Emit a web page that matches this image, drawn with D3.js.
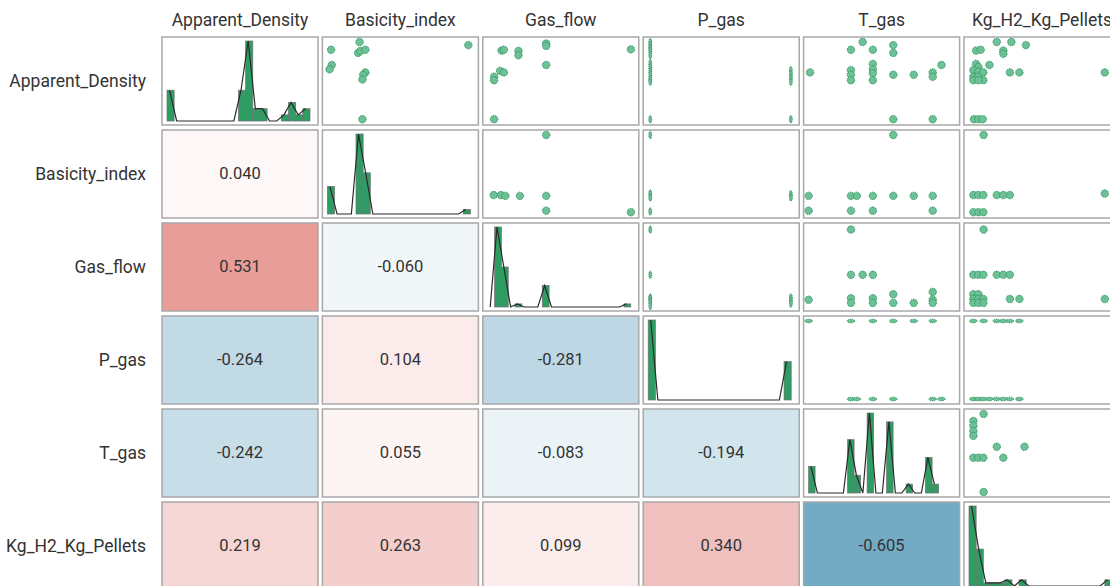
<!DOCTYPE html>
<html>
<head>
<meta charset="utf-8">
<title>Pairs plot</title>
<script src="https://d3js.org/d3.v7.min.js"></script>
<style>
  body { margin: 0; background: #fff; }
  text { font-family: Roboto, "Open Sans", sans-serif; fill: #333; }
</style>
</head>
<body>
<svg id="chart" width="1110" height="586"></svg>
<script>
var vars = ["Apparent_Density", "Basicity_index", "Gas_flow", "P_gas", "T_gas", "Kg_H2_Kg_Pellets"];

// lower triangle: [row, col, r]
var corr = [
  [1, 0, 0.040],
  [2, 0, 0.531], [2, 1, -0.060],
  [3, 0, -0.264], [3, 1, 0.104], [3, 2, -0.281],
  [4, 0, -0.242], [4, 1, 0.055], [4, 2, -0.083], [4, 3, -0.194],
  [5, 0, 0.219], [5, 1, 0.263], [5, 2, 0.099], [5, 3, 0.340], [5, 4, -0.605]
];

// diagonal histograms, counts per bin (null = outside data range)
var histApparent = [10,0,0,0,0,0,0,0,0,0,10,26,4,4,0,0,2,6,2,4];
var histBasicity = [12,0,0,0,35,18,0,0,0,0,0,0,0,0,0,0,0,0,0,2];
var histGas      = [0,26,13,0,1,0,0,0,7,0,0,0,0,0,0,0,0,0,0,0,1];
var histPgas     = [50,0,0,0,0,0,0,0,0,0,0,0,0,0,0,0,0,0,0,24];
var histTgas     = [6,0,0,0,0,0,12,4,0,18,0,0,16,0,0,2,0,0,8,2,null,null];
var histKg       = [26,12,1,1,1,2,0,2,0,0,0,0,0,0,0,0,0,0,0,2];
var hists = [histApparent, histBasicity, histGas, histPgas, histTgas, histKg];

// upper triangle scatter points, min-max normalised [x (column var), y (row var)]
var pts01 = [[0.025,0.90],[0.22,1.0],[0.21,0.86],[0.226,0.885],[0.26,0.90],[0.03,0.705],[0.015,0.65],[0.26,0.61],[0.245,0.58],[0.24,0.52],[0.24,0.01],[0.965,0.96]];
var pts02 = [[0.094,0.89],[0.11,0.90],[0.21,0.885],[0.21,0.83],[0.40,0.98],[0.40,0.95],[0.40,0.705],[0.084,0.63],[0.11,0.61],[0.043,0.555],[0.043,0.51],[0.043,0.01],[0.98,0.906]];
var pts03 = [[0.014,1.0],[0.014,0.96],[0.014,0.92],[0.014,0.885],[0.014,0.83],[0.014,0.73],[0.014,0.68],[0.014,0.63],[0.014,0.58],[0.014,0.525],[0.014,0.49],[0.977,0.64],[0.977,0.59],[0.977,0.54],[0.977,0.49],[0.014,0.01],[0.977,0.01]];
var pts04 = [[0.01,0.61],[0.37,1.0],[0.29,0.90],[0.44,0.90],[0.58,0.96],[0.58,0.86],[0.29,0.64],[0.29,0.58],[0.29,0.51],[0.44,0.72],[0.44,0.65],[0.44,0.60],[0.44,0.51],[0.58,0.58],[0.72,0.58],[0.85,0.61],[0.85,0.555],[0.91,0.705],[0.58,0.01],[0.85,0.01]];
var pts05 = [[0.048,0.89],[0.08,0.90],[0.19,1.0],[0.29,1.0],[0.39,0.96],[0.235,0.89],[0.235,0.85],[0.048,0.72],[0.064,0.68],[0.14,0.705],[0.03,0.64],[0.064,0.62],[0.098,0.61],[0.03,0.555],[0.064,0.555],[0.098,0.51],[0.03,0.51],[0.064,0.51],[0.28,0.61],[0.345,0.61],[0.93,0.61],[0.034,0.01],[0.064,0.01],[0.094,0.01]];
var pts12 = [[0.40,1.0],[0.04,0.23],[0.09,0.23],[0.12,0.22],[0.22,0.22],[0.40,0.22],[0.40,0.03],[0.98,0.01]];
var pts13 = [[0.014,1.0],[0.014,0.25],[0.014,0.2],[0.014,0.02],[0.977,0.24],[0.977,0.2]];
var pts14 = [[0.58,1.0],[0.0,0.22],[0.29,0.22],[0.33,0.22],[0.44,0.22],[0.58,0.22],[0.72,0.22],[0.85,0.22],[0.0,0.03],[0.29,0.03],[0.44,0.03],[0.85,0.03]];
var pts15 = [[0.1,1.0],[0.03,0.23],[0.064,0.23],[0.098,0.23],[0.19,0.23],[0.235,0.23],[0.28,0.23],[0.93,0.25],[0.03,0.01],[0.064,0.01],[0.098,0.01]];
var pts23 = [[0.014,0.98],[0.014,0.40],[0.014,0.11],[0.014,0.09],[0.014,0.05],[0.014,0.0],[0.977,0.11],[0.977,0.07],[0.977,0.03]];
var pts24 = [[0.29,0.98],[0.29,0.40],[0.37,0.40],[0.44,0.40],[0.58,0.15],[0.85,0.18],[0.0,0.08],[0.29,0.1],[0.29,0.04],[0.44,0.1],[0.44,0.04],[0.58,0.04],[0.72,0.04],[0.85,0.08],[0.85,0.04]];
var pts25 = [[0.1,0.98],[0.03,0.40],[0.064,0.40],[0.098,0.40],[0.19,0.40],[0.235,0.40],[0.28,0.40],[0.03,0.15],[0.064,0.15],[0.03,0.09],[0.064,0.09],[0.098,0.09],[0.03,0.04],[0.064,0.04],[0.098,0.04],[0.28,0.09],[0.345,0.09],[0.93,0.09]];
var pts34 = [[0.0,1.0],[0.29,1.0],[0.44,1.0],[0.58,1.0],[0.72,1.0],[0.85,1.0],[0.29,0.0],[0.33,0.0],[0.44,0.0],[0.58,0.0],[0.85,0.0],[0.91,0.0]];
var pts35 = [[0.03,1.0],[0.1,1.0],[0.19,1.0],[0.235,1.0],[0.28,1.0],[0.345,1.0],[0.03,0.0],[0.064,0.0],[0.098,0.0],[0.14,0.0],[0.19,0.0],[0.235,0.0],[0.28,0.0],[0.345,0.0]];
var pts45 = [[0.1,1.0],[0.03,0.91],[0.03,0.85],[0.03,0.78],[0.03,0.72],[0.19,0.58],[0.38,0.58],[0.03,0.44],[0.064,0.44],[0.098,0.44],[0.235,0.44],[0.1,0.0]];
var scatter = {
  "0,1": pts01, "0,2": pts02, "0,3": pts03, "0,4": pts04, "0,5": pts05,
  "1,2": pts12, "1,3": pts13, "1,4": pts14, "1,5": pts15,
  "2,3": pts23, "2,4": pts24, "2,5": pts25,
  "3,4": pts34, "3,5": pts35,
  "4,5": pts45
};

var svg = d3.select("#chart");

var colX = d3.scaleBand().domain(vars).range([162, 1120]).paddingInner(0.0274);
var rowY = d3.scaleBand().domain(vars).range([37, 590]).paddingInner(0.0538);
var bw = colX.bandwidth(), bh = rowY.bandwidth();

var color = d3.scaleLinear().domain([-1, 0, 1]).range(["#17729e", "#ffffff", "#d4463f"]);

// point radius shrinks along the wide-range P_gas axis
function radius(v, isY) {
  if (v === "P_gas") return isY ? 1.8 : 1.4;
  return 3.7;
}

// column headers
svg.selectAll(".colTitle")
  .data(vars)
  .join("text")
  .attr("class", "colTitle")
  .attr("x", function(d){ return colX(d) + bw / 2; })
  .attr("y", 26)
  .attr("text-anchor", "middle")
  .style("font-size", "17.5px")
  .text(function(d){ return d; });

// row labels
svg.selectAll(".rowTitle")
  .data(vars)
  .join("text")
  .attr("class", "rowTitle")
  .attr("x", 146)
  .attr("y", function(d){ return rowY(d) + bh / 2; })
  .attr("text-anchor", "end")
  .attr("dominant-baseline", "central")
  .style("font-size", "17.5px")
  .text(function(d){ return d; });

var defs = svg.append("defs");
defs.append("clipPath").attr("id", "cellClip")
  .append("rect").attr("width", bw).attr("height", bh);

var corrLookup = {};
corr.forEach(function(c){ corrLookup[c[0] + "," + c[1]] = c[2]; });

vars.forEach(function(rv, i){
  vars.forEach(function(cv, j){
    var g = svg.append("g")
      .attr("transform", "translate(" + colX(cv) + "," + rowY(rv) + ")");
    var key = i + "," + j;

    var r = corrLookup[key];
    g.append("rect")
      .attr("width", bw).attr("height", bh)
      .attr("fill", i > j ? color(r) : "#fff");

    var inner = g.append("g").attr("clip-path", "url(#cellClip)");

    if (i > j) {
      g.append("text")
        .attr("x", bw / 2).attr("y", bh / 2)
        .attr("text-anchor", "middle")
        .attr("dominant-baseline", "central")
        .style("font-size", "16.5px")
        .text(r.toFixed(3));
    } else if (i === j) {
      var counts = hists[i];
      var hx = d3.scaleLinear().domain([0, counts.length]).range([5, bw - 8]);
      var hy = d3.scaleLinear().domain([0, d3.max(counts)]).range([bh - 4, 4]);
      var bins = counts.map(function(c, k){ return {k: k, c: c}; });

      inner.selectAll("rect.bar")
        .data(bins.filter(function(b){ return b.c > 0; }))
        .join("rect")
        .attr("class", "bar")
        .attr("x", function(b){ return hx(b.k); })
        .attr("width", function(b){ return hx(b.k + 1) - hx(b.k); })
        .attr("y", function(b){ return hy(b.c); })
        .attr("height", function(b){ return hy(0) - hy(b.c); })
        .attr("fill", "#2e9c63")
        .attr("stroke", "#707070")
        .attr("stroke-width", 0.7);

      var line = d3.line()
        .defined(function(b){ return b.c != null; })
        .x(function(b){ return hx(b.k + 0.35); })
        .y(function(b){ return hy(b.c); });

      inner.append("path")
        .datum(bins)
        .attr("d", line)
        .attr("fill", "none")
        .attr("stroke", "#2a2a2a")
        .attr("stroke-width", 1.2);
    } else {
      var sx = d3.scaleLinear().domain([0, 1]).range([5, bw - 5]);
      var sy = d3.scaleLinear().domain([0, 1]).range([bh - 5, 5]);
      inner.selectAll("ellipse")
        .data(scatter[key])
        .join("ellipse")
        .attr("cx", function(p){ return sx(p[0]); })
        .attr("cy", function(p){ return sy(p[1]); })
        .attr("rx", radius(cv, false))
        .attr("ry", radius(rv, true))
        .attr("fill", "#6cc196")
        .attr("stroke", "#2b8f58")
        .attr("stroke-width", 1)
        .attr("stroke-dasharray", "1.2 0.8");
    }

    g.append("rect")
      .attr("width", bw).attr("height", bh)
      .attr("fill", "none")
      .attr("stroke", "#a8a8a8")
      .attr("stroke-width", 1.5);
  });
});
</script>
</body>
</html>
